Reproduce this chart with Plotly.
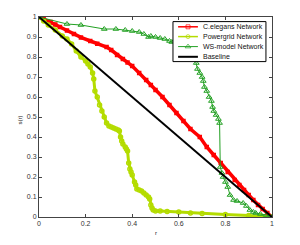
import plotly.graph_objects as go

# C.elegans Network
celegans_x = [0, 0.02, 0.05, 0.07, 0.09, 0.12, 0.15, 0.18, 0.22, 0.25, 0.29, 0.31, 0.335, 0.36, 0.38, 0.4,
              0.43, 0.46, 0.48, 0.5, 0.53, 0.56, 0.59, 0.62, 0.65, 0.69, 0.72, 0.75, 0.78, 0.81, 0.84, 0.86,
              0.88, 0.9, 0.92, 0.94, 0.96, 0.98, 1.0]
celegans_y = [1, 0.99, 0.975, 0.962, 0.95, 0.932, 0.915, 0.898, 0.88, 0.866, 0.85, 0.835, 0.81, 0.79, 0.773,
              0.755, 0.72, 0.685, 0.66, 0.635, 0.6, 0.56, 0.52, 0.48, 0.44, 0.40, 0.35, 0.31, 0.27, 0.225,
              0.185, 0.16, 0.135, 0.11, 0.085, 0.06, 0.04, 0.02, 0]

# Powergrid Network
power_x = [0, 0.02, 0.04, 0.07, 0.1, 0.12, 0.14, 0.16, 0.18, 0.2, 0.21, 0.22, 0.23, 0.235, 0.24, 0.25, 0.26,
           0.27, 0.28, 0.29, 0.3, 0.31, 0.32, 0.33, 0.34, 0.345, 0.35, 0.355, 0.36, 0.37, 0.375, 0.38, 0.385,
           0.39, 0.395, 0.4, 0.41, 0.415, 0.42, 0.43, 0.44, 0.45, 0.46, 0.47, 0.475, 0.48, 0.485, 0.49, 0.5,
           0.52, 0.55, 0.6, 0.65, 0.7, 0.8, 0.9, 0.95, 1]
power_y = [1, 0.98, 0.96, 0.935, 0.905, 0.89, 0.865, 0.83, 0.8, 0.78, 0.765, 0.75, 0.72, 0.69, 0.63, 0.6,
           0.56, 0.53, 0.5, 0.47, 0.455, 0.45, 0.445, 0.44, 0.435, 0.43, 0.40, 0.38, 0.365, 0.35, 0.34, 0.33,
           0.27, 0.24, 0.225, 0.21, 0.175, 0.16, 0.14, 0.135, 0.13, 0.12, 0.11, 0.1, 0.09, 0.06, 0.045, 0.035,
           0.03, 0.03, 0.028, 0.025, 0.02, 0.018, 0.013, 0.008, 0.005, 0]

# WS-model Network
ws_x = [0, 0.12, 0.18, 0.28, 0.33, 0.37, 0.4, 0.43, 0.45, 0.47, 0.48, 0.5, 0.52, 0.54, 0.56, 0.57, 0.6, 0.63,
        0.66, 0.675, 0.68, 0.69, 0.7, 0.705, 0.71, 0.72, 0.73, 0.74, 0.745, 0.75, 0.76, 0.77, 0.775, 0.778,
        0.785, 0.79, 0.8, 0.81, 0.82, 0.835, 0.85, 0.876, 0.89, 0.905, 0.92, 0.93, 0.95, 0.975, 1]
ws_y = [1, 0.965, 0.96, 0.94, 0.94, 0.935, 0.93, 0.925, 0.915, 0.9, 0.905, 0.9, 0.895, 0.89, 0.88, 0.875,
        0.87, 0.86, 0.84, 0.77, 0.74, 0.72, 0.70, 0.68, 0.65, 0.63, 0.60, 0.58, 0.55, 0.53, 0.51, 0.49, 0.47,
        0.25, 0.22, 0.2, 0.175, 0.15, 0.11, 0.085, 0.08, 0.07, 0.055, 0.035, 0.025, 0.02, 0.015, 0.01, 0]

# Baseline
base_x = [0, 1]
base_y = [1, 0]

series_names = ["C.elegans Network", "Powergrid Network", "WS-model Network", "Baseline"]

x_ticks = [0, 0.2, 0.4, 0.6, 0.8, 1]
x_tick_labels = ["0", "0.2", "0.4", "0.6", "0.8", "1"]
y_ticks = [0, 0.1, 0.2, 0.3, 0.4, 0.5, 0.6, 0.7, 0.8, 0.9, 1]
y_tick_labels = ["0", "0.1", "0.2", "0.3", "0.4", "0.5", "0.6", "0.7", "0.8", "0.9", "1"]

RED = "#ff0000"
LIME = "#b4dc00"
GREEN = "#22a022"
FONT = "Liberation Sans, Arial, sans-serif"

styles = [
    dict(mode="lines+markers", line=dict(color=RED, width=3.5),
         marker=dict(symbol="square-open", size=3, color=RED, line=dict(width=1.5))),
    dict(mode="lines+markers", line=dict(color=LIME, width=3),
         marker=dict(symbol="circle-open", size=4, color=LIME, line=dict(width=1.5))),
    dict(mode="lines+markers", line=dict(color=GREEN, width=1),
         marker=dict(symbol="triangle-up-open", size=5, color=GREEN, line=dict(width=1))),
    dict(mode="lines", line=dict(color="black", width=2)),
]

fig = go.Figure()
for xs, ys, name, st in zip([celegans_x, power_x, ws_x, base_x], [celegans_y, power_y, ws_y, base_y],
                            series_names, styles):
    fig.add_trace(go.Scatter(x=xs, y=ys, name=name, showlegend=False, hoverinfo="skip", **st))

# Custom compact legend, drawn on an overlay axis spanning the plot area (0..1 in paper units)
lg_x0, lg_x1, lg_y0, lg_y1 = 0.575, 0.974, 0.777, 0.977
fig.add_trace(go.Scatter(x=[lg_x0, lg_x1, lg_x1, lg_x0, lg_x0], y=[lg_y0, lg_y0, lg_y1, lg_y1, lg_y0],
                         mode="lines", fill="toself", fillcolor="white", line=dict(color="black", width=1),
                         xaxis="x2", yaxis="y2", showlegend=False, hoverinfo="skip"))
entry_y = [0.951, 0.902, 0.852, 0.801]
sx0, sx1 = 0.597, 0.682
legend_styles = [
    dict(mode="lines+markers", line=dict(color=RED, width=1.5),
         marker=dict(symbol="square-open", size=4, color=RED, line=dict(width=1))),
    dict(mode="lines+markers", line=dict(color=LIME, width=1.5),
         marker=dict(symbol="circle-open", size=4, color=LIME, line=dict(width=1))),
    dict(mode="lines+markers", line=dict(color=GREEN, width=1),
         marker=dict(symbol="triangle-up-open", size=5, color=GREEN, line=dict(width=1))),
    dict(mode="lines", line=dict(color="black", width=2)),
]
for ey, name, st in zip(entry_y, series_names, legend_styles):
    st = dict(st)
    if "marker" in st:
        st["marker"] = dict(st["marker"], size=[0, st["marker"]["size"], 0])
    fig.add_trace(go.Scatter(x=[sx0, (sx0 + sx1) / 2, sx1], y=[ey, ey, ey], xaxis="x2", yaxis="y2",
                             showlegend=False, hoverinfo="skip", **st))
    fig.add_annotation(x=0.695, y=ey, xref="paper", yref="paper", text=name, showarrow=False,
                       xanchor="left", yanchor="middle", font=dict(family=FONT, size=7, color="#111"))

# Axis titles
fig.add_annotation(x=0.5, y=-0.078, xref="paper", yref="paper", text="r", showarrow=False,
                   xanchor="center", yanchor="middle", font=dict(family=FONT, size=6, color="#222"))
fig.add_annotation(x=-0.082, y=0.487, xref="paper", yref="paper", text="s(r)", showarrow=False,
                   textangle=-90, xanchor="center", yanchor="middle", font=dict(family=FONT, size=6, color="#222"))

axis_common = dict(showgrid=False, zeroline=False, ticks="inside", ticklen=3, tickcolor="#444",
                   showline=True, linecolor="#444", linewidth=1, mirror="ticks", automargin=False,
                   tickfont=dict(family=FONT, size=7, color="#333"))

# The page body has an 8px default margin, so the figure is sized to 292x237 to fill the 300x245 window
fig.update_layout(
    width=292, height=237,
    margin=dict(l=31, r=28, t=9, b=28, autoexpand=False),
    paper_bgcolor="white", plot_bgcolor="white",
    font=dict(family=FONT, size=7, color="#222"),
    showlegend=False,
    xaxis=dict(range=[0, 1], tickvals=x_ticks, ticktext=x_tick_labels, **axis_common),
    yaxis=dict(range=[0, 1], tickvals=y_ticks, ticktext=y_tick_labels, **axis_common),
    xaxis2=dict(range=[0, 1], overlaying="x", visible=False, fixedrange=True),
    yaxis2=dict(range=[0, 1], overlaying="y", visible=False, fixedrange=True),
)

fig.write_html("out.html")
